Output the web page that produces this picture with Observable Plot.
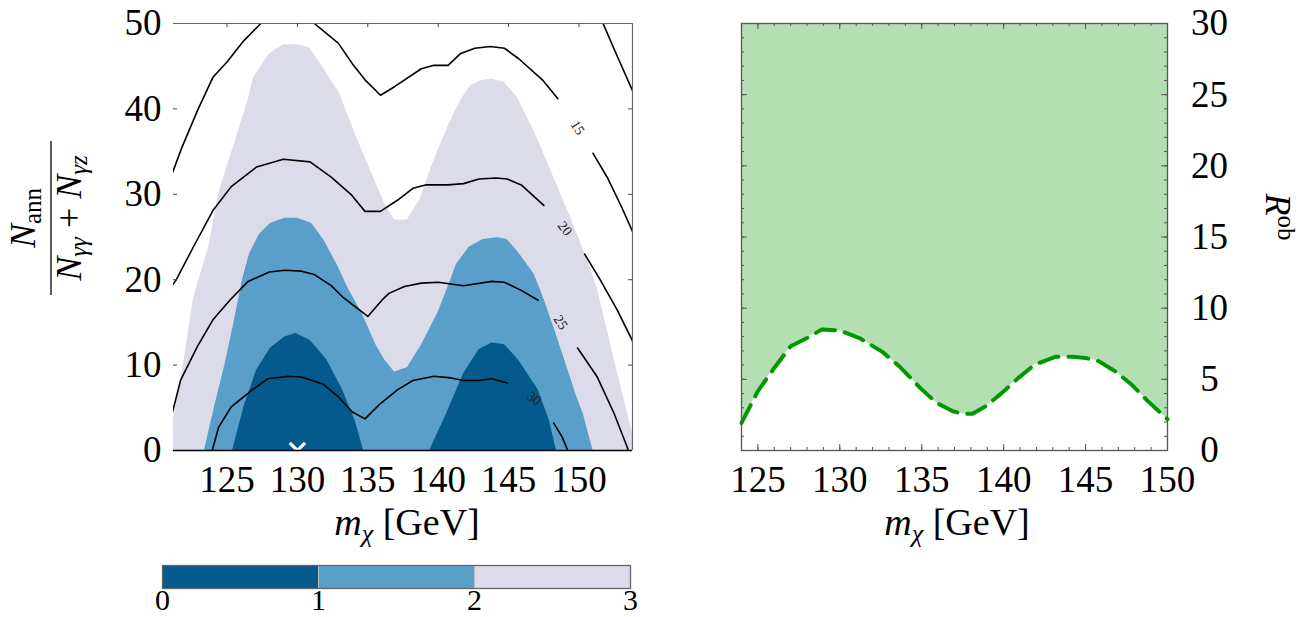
<!DOCTYPE html>
<html>
<head>
<meta charset="utf-8">
<script src="https://cdn.jsdelivr.net/npm/d3@7"></script>
<script src="https://cdn.jsdelivr.net/npm/@observablehq/plot@0.6"></script>
<style>
  html, body { margin: 0; padding: 0; background: #fff; overflow: hidden; }
  #wrap { position: relative; width: 1304px; height: 617px; overflow: hidden; }
  #wrap > svg, #wrap > figure { position: absolute; margin: 0; }
</style>
</head>
<body>
<div id="wrap"></div>
<script>
// ---------------- DATA ----------------
// Left panel: x = m_chi [GeV], y = N_ann/(N_gg + N_gZ)
const massTicksLeft = [125, 130, 135, 140, 145, 150];
const ratioTicks = [0, 10, 20, 30, 40, 50];
const levelTicks = [0, 1, 2, 3];
const levelColors = ["#045a8d", "#5a9fca", "#dcdbea"];

// upper boundary of region with level < 3 (light)
const bandLight = [[121.2,3.6],[121.9,10],[122.6,17.6],[123.0,20],[123.7,23.8],[124.4,30],[125.6,36.3],[126.5,41],[126.9,43.7],[128.0,46.4],[129.0,47.5],[130.0,47.5],[130.9,47.1],[131.8,44.9],[133.0,41.8],[134.1,37.1],[135.3,32.4],[136.2,28.9],[136.9,27.0],[137.8,27.0],[138.7,29.3],[139.7,34.0],[140.7,37.9],[141.6,41.0],[142.3,42.7],[143.0,43.3],[143.8,43.5],[144.7,43.1],[145.6,41.4],[146.9,37.1],[148.2,32.0],[149.4,27.3],[150.6,22.3],[151.3,19.0],[152.6,10.0],[153.4,4.7],[153.8,2.0]];
// upper boundary of region with level < 2 (medium)
const bandMedium = [[123.4,0],[124.1,5],[124.85,10],[125.5,15],[126.1,20],[126.6,23],[127.3,25.3],[128.1,26.6],[129.1,27.2],[130.0,27.2],[131.0,26.6],[131.9,24.6],[132.9,21.5],[133.6,19.0],[134.6,16.0],[135.6,12.3],[136.2,10.6],[136.9,9.2],[137.8,9.7],[138.8,12.3],[140.0,16.2],[140.9,20.0],[141.3,21.8],[142.2,23.8],[143.2,24.7],[144.2,24.9],[144.9,24.7],[145.6,23.4],[146.8,20.7],[147.5,17.8],[148.3,14.0],[149.1,10.0],[149.8,6.5],[150.3,4.3],[151.0,0]];
// upper boundary of region with level < 1 (dark), two humps
const bandDarkA = [[125.4,0],[126.2,5.1],[127.1,9.4],[128.1,12.0],[129.1,13.3],[129.9,13.7],[130.9,12.9],[132.1,10.6],[133.2,7.1],[134.1,3.5],[134.7,0]];
const bandDarkB = [[139.4,0],[140.6,4.3],[141.8,9.0],[142.9,11.8],[143.8,12.6],[144.7,12.4],[145.7,10.6],[147.1,7.1],[147.9,3.5],[148.4,0]];

// black contour lines (segments split where the labels sit)
const contour10 = [[151.5,50.8],[152.6,46.6],[154.0,41.4]];
const contour15a = [[121.1,32.4],[121.8,35.5],[122.9,39.8],[124.0,43.7],[125.0,45.5],[126.2,48.0],[127.4,50.0],[128.5,51.2],[129.5,51.5],[130.4,51.2],[131.2,50.0],[132.9,47.7],[133.9,45.3],[134.8,43.4],[135.9,41.6],[136.9,42.6],[138.8,44.7],[139.7,45.1],[140.7,45.1],[141.6,46.5],[142.6,47.1],[143.7,47.3],[144.7,47.1],[145.7,45.9],[147.4,43.4],[148.5,41.2]];
const contour15b = [[151.0,34.8],[152.0,32.0],[153.0,28.6],[153.9,25.3]];
const contour20a = [[121.1,19.3],[121.4,20.0],[122.6,23.8],[124.0,28.1],[125.3,30.9],[127.1,33.2],[129.0,34.1],[130.9,33.8],[132.4,32.0],[133.8,30.0],[134.8,28.0],[135.9,28.0],[137.1,29.3],[138.2,30.7],[139.1,31.1],[140.7,31.1],[141.8,31.25],[142.9,31.8],[144.1,31.9],[144.9,31.8],[145.9,31.1],[147.5,28.7]];
const contour20b = [[150.4,23.0],[151.5,20.0],[152.7,16.5],[153.9,12.5]];
const contour25a = [[121.1,4.3],[121.7,8.2],[122.9,12.2],[124.0,15.3],[125.2,17.6],[126.5,19.8],[128.0,20.9],[129.1,21.1],[130.3,21.0],[131.2,20.6],[132.4,19.3],[133.2,18.0],[135.0,15.7],[136.0,17.6],[136.5,18.4],[137.6,19.2],[138.8,19.6],[140.0,19.7],[141.8,19.3],[143.8,19.8],[144.7,19.7],[145.9,18.75],[147.1,17.6]];
const contour25b = [[149.9,12.0],[151.3,8.6],[152.5,4.3],[153.4,0.5],[153.5,0]];
const contour30a = [[123.95,0],[124.4,2.7],[125.3,5.1],[126.8,7.1],[127.9,8.4],[129.4,8.7],[130.3,8.6],[131.8,7.8],[132.9,6.3],[133.9,4.5],[134.8,3.7],[135.9,5.5],[137.1,7.1],[138.2,8.2],[139.7,8.7],[140.9,8.5],[141.8,8.2],[142.9,8.2],[143.8,8.4],[144.9,7.9]];
const contour30b = [[148.2,3.2],[148.8,1.6],[149.2,0]];
const contourLabels = [
  {text: "15", x: 149.9, y: 37.8},
  {text: "20", x: 149.0, y: 26.0},
  {text: "25", x: 148.7, y: 15.0},
  {text: "30", x: 146.8, y: 6.1}
];
const bestFit = [{x: 130, y: 0}];

// Right panel: x = m_chi [GeV], y = R^ob
const massTicksRight = [125, 130, 135, 140, 145, 150];
const robTicks = [0, 5, 10, 15, 20, 25, 30];
const robMass = [124.0,125.0,126.0,127.0,128.0,128.9,130.0,131.2,132.6,133.65,134.9,135.9,136.9,137.5,138.1,138.9,139.9,140.9,141.9,143.15,144.2,145.0,145.8,146.8,147.8,148.8,149.8,150.0];
const robValue = [1.94,4.17,5.8,7.33,7.9,8.5,8.43,7.9,6.93,5.9,4.4,3.35,2.76,2.58,2.58,3.1,4.05,5.1,6.04,6.58,6.58,6.5,6.28,5.57,4.64,3.47,2.41,2.2];

// ---------------- DRAWING ----------------
const FONT = "'Liberation Serif', 'DejaVu Serif', serif";
const wrap = document.getElementById("wrap");
const P = d => d;
const px = d => d[0], py = d => d[1];

const toRows = (arr, id) => arr.map(d => ({x: d[0], y: d[1], id}));
const contours = [contour10, contour15a, contour15b, contour20a, contour20b, contour25a, contour25b, contour30a, contour30b]
  .flatMap((c, i) => toRows(c, i));
const darkRows = [...toRows(bandDarkA, "a"), ...toRows(bandDarkB, "b")];
const labelAngle = {"15": 58, "20": 52, "25": 56, "30": 36};

const left = Plot.plot({
  width: 660, height: 530,
  marginLeft: 173, marginRight: 28, marginTop: 23, marginBottom: 80,
  x: {domain: [121.2, 153.8]},
  y: {domain: [0, 50]},
  style: {fontFamily: FONT, fontSize: "37px", color: "black", background: "transparent", overflow: "visible"},
  marks: [
    Plot.areaY(bandLight, {x: px, y: py, fill: levelColors[2], curve: "linear"}),
    Plot.areaY(bandMedium, {x: px, y: py, fill: levelColors[1], curve: "linear"}),
    Plot.areaY(darkRows, {x: "x", y: "y", z: "id", fill: levelColors[0], curve: "linear"}),
    Plot.line(contours, {x: "x", y: "y", z: "id", stroke: "black", strokeWidth: 1.6, curve: "linear", clip: true}),
    Plot.text(contourLabels, {x: "x", y: "y", text: "text", rotate: d => labelAngle[d.text], fontSize: 14, fill: "#222"}),
    Plot.dot(bestFit, {x: "x", y: "y", symbol: "times", r: 7, stroke: "white", strokeWidth: 3.2, clip: true}),
    // frame (top, right grey; bottom black)
    Plot.ruleY([50], {stroke: "#666", strokeWidth: 1.2}),
    Plot.ruleX([153.8], {stroke: "#666", strokeWidth: 1.2}),
    // inward ticks
    Plot.ruleX(massTicksLeft, {x: P, insetBottom: 423, stroke: "#444"}),
    Plot.ruleY(ratioTicks.slice(1, 5), {y: P, insetRight: 455, stroke: "#444"}),
    Plot.ruleY(ratioTicks.slice(1, 5), {y: P, insetLeft: 455, stroke: "#444"}),
    Plot.ruleY([0], {stroke: "black", strokeWidth: 1.6}),
    Plot.axisX(massTicksLeft, {tickSize: 0, tickPadding: 15, label: null}),
    Plot.axisY(ratioTicks, {tickSize: 0, tickPadding: 12, label: null})
  ]
});
left.style.left = "0px"; left.style.top = "0px";
wrap.appendChild(left);

const robRows = robMass.map((m, i) => ({m, r: robValue[i]}));
const minorRX = d3.range(125, 150, 1);
const minorRY = d3.range(1, 30, 1);

const right = Plot.plot({
  width: 624, height: 530,
  marginLeft: 61, marginRight: 137, marginTop: 23, marginBottom: 80,
  x: {domain: [124, 150]},
  y: {domain: [0, 30]},
  style: {fontFamily: FONT, fontSize: "37px", color: "black", background: "transparent", overflow: "visible"},
  marks: [
    Plot.areaY(robRows, {x: "m", y1: "r", y2: () => 30, fill: "#b3dfb3", curve: "linear"}),
    Plot.line(robRows, {x: "m", y: "r", stroke: "#009a00", strokeWidth: 4, strokeDasharray: "20,10", curve: "linear"}),
    // minor/major inward ticks
    Plot.ruleX(minorRX, {x: P, insetTop: 424, stroke: "#555"}),
    Plot.ruleX(minorRX, {x: P, insetBottom: 424, stroke: "#555"}),
    Plot.ruleX(massTicksRight, {x: P, insetTop: 421, stroke: "#555"}),
    Plot.ruleX(massTicksRight, {x: P, insetBottom: 421, stroke: "#555"}),
    Plot.ruleY(minorRY, {y: P, insetRight: 423, stroke: "#555"}),
    Plot.ruleY(minorRY, {y: P, insetLeft: 423, stroke: "#555"}),
    Plot.ruleY(robTicks, {y: P, insetRight: 420, stroke: "#555"}),
    Plot.ruleY(robTicks, {y: P, insetLeft: 420, stroke: "#555"}),
    Plot.frame({stroke: "#555", strokeWidth: 1.3}),
    Plot.axisX(massTicksRight, {tickSize: 0, tickPadding: 15, label: null}),
    Plot.axisY(robTicks, {anchor: "right", tickSize: 0, tickPadding: 42, textAnchor: "middle", label: null})
  ]
});
right.style.left = "680px"; right.style.top = "0px";
wrap.appendChild(right);

const levelRows = levelTicks.slice(0, 3).map((v, i) => ({x1: v, x2: v + 1, c: levelColors[i]}));
const cbar = Plot.plot({
  width: 540, height: 62,
  marginLeft: 32, marginRight: 40, marginTop: 10, marginBottom: 29,
  x: {domain: [0, 3]},
  y: {domain: [0, 1], axis: null},
  style: {fontFamily: FONT, fontSize: "30px", color: "black", background: "transparent", overflow: "visible"},
  marks: [
    Plot.rect(levelRows, {x1: "x1", x2: "x2", y1: 0, y2: 1, fill: "c"}),
    Plot.ruleX([1, 2], {stroke: "#bbb", strokeWidth: 1}),
    Plot.frame({stroke: "#666", strokeWidth: 1.3}),
    Plot.axisX(levelTicks, {tickSize: 0, tickPadding: 0, tickFormat: d => String(d), label: null})
  ]
});
cbar.style.left = "130px"; cbar.style.top = "555px";
wrap.appendChild(cbar);

// Axis titles as real text (math-like)
const F = FONT.replace(/'/g, "");
const overlay = `
<svg width="1304" height="617" style="left:0;top:0;pointer-events:none" font-family="${F}" fill="black">
  <text x="407" y="535" text-anchor="middle" font-size="38"><tspan font-style="italic">m</tspan><tspan font-style="italic" font-size="26" dy="7">χ</tspan><tspan dy="-7"> [GeV]</tspan></text>
  <text x="957" y="535" text-anchor="middle" font-size="38"><tspan font-style="italic">m</tspan><tspan font-style="italic" font-size="26" dy="7">χ</tspan><tspan dy="-7"> [GeV]</tspan></text>
  <g transform="translate(51,218) rotate(-90)">
    <text x="0" y="-16" text-anchor="middle" font-size="36"><tspan font-style="italic">N</tspan><tspan font-size="25" dy="6">ann</tspan></text>
    <line x1="-77" x2="77" y1="0" y2="0" stroke="#333" stroke-width="1.6"></line>
    <text x="0" y="30" text-anchor="middle" font-size="36"><tspan font-style="italic">N</tspan><tspan font-style="italic" font-size="25" dy="6">γγ</tspan><tspan dy="-6"> + </tspan><tspan font-style="italic">N</tspan><tspan font-style="italic" font-size="25" dy="6">γz</tspan></text>
  </g>
  <g transform="translate(1266,217) rotate(90)">
    <text x="0" y="0" text-anchor="middle" font-size="36"><tspan font-style="italic">R</tspan><tspan font-size="25" dy="-12">ob</tspan></text>
  </g>
</svg>`;
wrap.insertAdjacentHTML("beforeend", overlay);
</script>
</body>
</html>
